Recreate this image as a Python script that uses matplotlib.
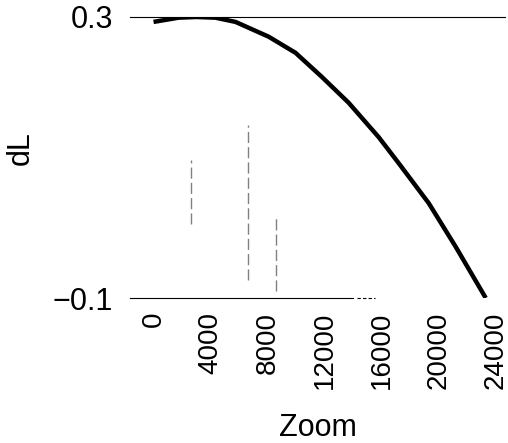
import matplotlib.pyplot as plt

# curve
zoom = [0, 1750, 3000, 4350, 5750, 8070, 9960, 11790, 13680, 15790, 17190, 19300, 21190, 23300]
dL = [0.293, 0.299, 0.300, 0.299, 0.293, 0.272, 0.249, 0.215, 0.178, 0.129, 0.092, 0.035, -0.027, -0.100]

# faint vertical dashed marks
vx = [2600, 6650, 8600]
vlo = [0.005, -0.074, -0.090]
vhi = [0.096, 0.146, 0.018]

xticks = [0, 4000, 8000, 12000, 16000, 20000, 24000]
yticks = [-0.1, 0.3]
ylabels = ['\u22120.1', '0.3']

plt.rcParams['font.family'] = ['Liberation Sans', 'DejaVu Sans']

W, H = 508, 443
fig = plt.figure(figsize=(W / 100, H / 100), dpi=100)
ax = fig.add_axes([130 / W, 1 - 298 / H, (505 - 130) / W, (298 - 17) / H])

ax.plot(zoom, dL, color='black', lw=3.2, solid_capstyle='butt', solid_joinstyle='round')

for x, lo, hi in zip(vx, vlo, vhi):
    ax.vlines(x, lo, hi, color='#808080', lw=1, linestyles=(0, (8, 3)))

# partial reference lines at the y limits
ax.axhline(0.3, color='black', lw=0.8, clip_on=False)
ax.axhline(-0.1, xmin=0, xmax=(353 - 130) / 375, color='black', lw=0.8, clip_on=False)
ax.axhline(-0.1, xmin=(357 - 130) / 375, xmax=(375 - 130) / 375, color='black', lw=0.8,
           linestyle=(0, (3, 2)), clip_on=False)

ax.set_xlim(-1650, 24650)
ax.set_ylim(-0.1, 0.3)
ax.set_xticks(xticks)
ax.set_xticklabels([str(t) for t in xticks], rotation=90, fontsize=20)
ax.set_yticks(yticks)
ax.set_yticklabels(ylabels, fontsize=22)
ax.tick_params(length=0)
ax.tick_params(axis='x', pad=10)
ax.tick_params(axis='y', pad=12)
for s in ax.spines.values():
    s.set_visible(False)

ax.set_xlabel('Zoom', fontsize=22)
ax.xaxis.set_label_coords(0.50, -0.41)
ax.set_ylabel('dL', fontsize=22)
ax.yaxis.set_label_coords(-0.25, 0.534)

fig.savefig('out.png', dpi=100)
